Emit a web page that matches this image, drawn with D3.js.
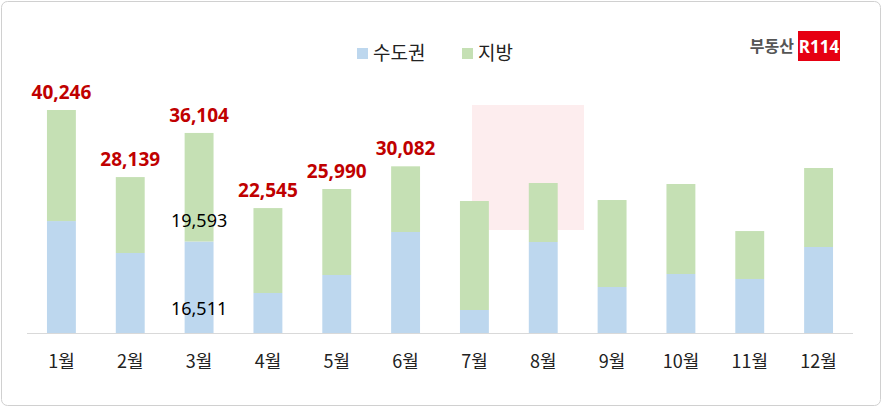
<!DOCTYPE html>
<html><head><meta charset="utf-8">
<script src="https://cdn.jsdelivr.net/npm/d3@7"></script>
<style>body{margin:0;background:#fff;font-family:"Noto Sans CJK KR","Noto Sans",sans-serif}</style>
</head><body>
<svg id="c" width="882" height="407"></svg>
<script>
const months = ["1월","2월","3월","4월","5월","6월","7월","8월","9월","10월","11월","12월"];
const capital = [20200,14440,16511,7220,10470,18230,4150,16420,8300,10650,9750,15520];
const totals = [40246,28139,36104,22545,25990,30082,23820,27070,24000,26890,18400,29780];
const labelled = [0,1,2,3,4,5]; // months with red total labels

const svg = d3.select("#c");
svg.append("rect").attr("x",1.5).attr("y",1.5).attr("width",879).attr("height",404)
  .attr("rx",6).attr("fill","#fff").attr("stroke","#d0d0d0");

const x = d3.scaleBand().domain(months).range([27,853]).paddingInner(0.58).paddingOuter(0.29);
const y = d3.scaleLinear().domain([0,40246]).range([333,110]);

// faint watermark
svg.append("rect").attr("x",472).attr("y",105).attr("width",112).attr("height",125).attr("fill","#e60012").attr("opacity",0.07);

const g = svg.append("g");
g.selectAll(".b").data(months).join("rect")
  .attr("x",d=>x(d)).attr("width",x.bandwidth())
  .attr("y",(d,i)=>y(capital[i])).attr("height",(d,i)=>y(0)-y(capital[i]))
  .attr("fill","#bdd7ee");
g.selectAll(".g").data(months).join("rect")
  .attr("x",d=>x(d)).attr("width",x.bandwidth())
  .attr("y",(d,i)=>y(totals[i])).attr("height",(d,i)=>y(capital[i])-y(totals[i]))
  .attr("fill","#c5e0b4");

svg.append("line").attr("x1",27).attr("x2",853).attr("y1",333.5).attr("y2",333.5).attr("stroke","#d9d9d9");

const ax = svg.append("g").attr("transform","translate(0,333)")
  .call(d3.axisBottom(x).tickSize(0).tickPadding(22));
ax.select(".domain").remove();
ax.selectAll("text").attr("font-size",18).attr("fill","#222").attr("font-family","Noto Sans CJK KR");

const fmt = d3.format(",");
svg.selectAll(".tl").data(labelled).join("text")
  .attr("x",i=>x(months[i])+x.bandwidth()/2).attr("y",i=>y(totals[i])-11)
  .attr("text-anchor","middle").attr("font-size",19).attr("font-weight","bold")
  .attr("fill","#c00000").attr("font-family","Noto Sans").text(i=>fmt(totals[i]));

// March value labels
const mx = x("3월")+x.bandwidth()/2;
svg.append("text").attr("x",mx).attr("y",(y(capital[2])+y(totals[2]))/2+40).attr("text-anchor","middle")
  .attr("font-size",18).attr("font-family","Noto Sans").attr("fill","#000").text(fmt(totals[2]-capital[2]));
svg.append("text").attr("x",mx).attr("y",(y(0)+y(capital[2]))/2+28).attr("text-anchor","middle")
  .attr("font-size",18).attr("font-family","Noto Sans").attr("fill","#000").text(fmt(capital[2]));

// legend
const leg = [["수도권","#bdd7ee",357],["지방","#c5e0b4",462]];
leg.forEach(([t,c,lx])=>{
  svg.append("rect").attr("x",lx).attr("y",48).attr("width",11).attr("height",11).attr("fill",c);
  svg.append("text").attr("x",lx+16).attr("y",60).attr("font-size",19).attr("fill","#222").text(t);
});

// logo
svg.append("text").attr("x",794).attr("y",52).attr("text-anchor","end").attr("font-size",16)
  .attr("font-weight","bold").attr("fill","#555").text("부동산");
svg.append("rect").attr("x",798).attr("y",31).attr("width",42).attr("height",30).attr("fill","#e60012");
svg.append("text").attr("x",819).attr("y",53).attr("text-anchor","middle").attr("font-size",17)
  .attr("font-weight","bold").attr("fill","#fff").attr("font-family","Noto Sans").text("R114");
</script>
</body></html>
